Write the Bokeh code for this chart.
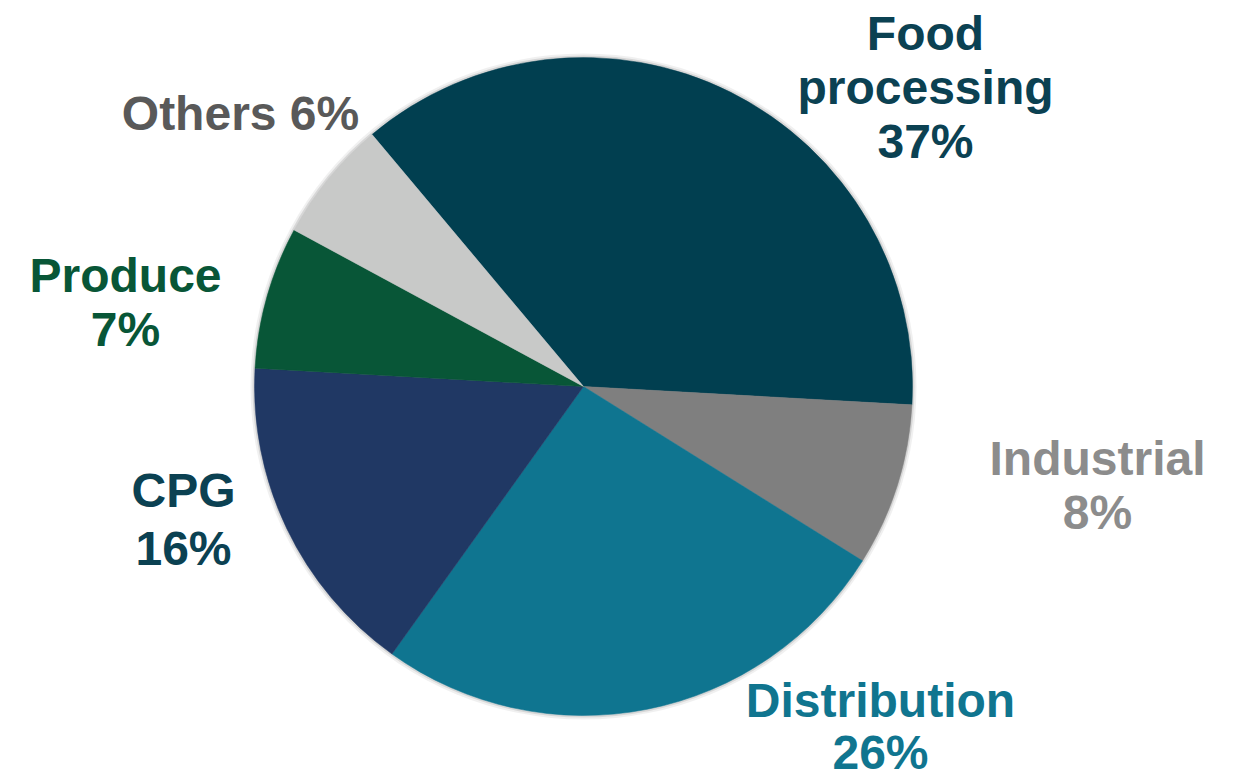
from bokeh.plotting import figure
from bokeh.models import ColumnDataSource
from bokeh.core.properties import value
from bokeh.embed import file_html
from bokeh.resources import INLINE
import math

categories = ["Food processing", "Industrial", "Distribution", "CPG", "Produce", "Others"]
shares = [37, 8, 26, 16, 7, 6]
slice_colors = ["#013F50", "#7F7F7F", "#0F7590", "#203864", "#085637", "#C8C9C8"]
text_colors = ["#0B4152", "#8C8C8C", "#10758F", "#0B4152", "#085637", "#595959"]
label_lines = [["Food", "processing"], ["Industrial"], ["Distribution"], ["CPG"], ["Produce"], ["Others"]]

W, H = 1237, 780
CX, CY, R = 583, H - 386, 329
START = 130.0

p = figure(width=W, height=H, x_range=(0, W), y_range=(0, H),
           output_backend="svg", toolbar_location=None, min_border=0)
p.axis.visible = False
p.grid.visible = False
p.outline_line_color = None
p.background_fill_color = "white"

starts, ends = [], []
cum = 0
total = sum(shares)
for s in shares:
    a0 = START - cum / total * 360
    cum += s
    a1 = START - cum / total * 360
    starts.append(math.radians(a0))
    ends.append(math.radians(a1))

src = ColumnDataSource(dict(cat=categories, share=shares, start=starts, end=ends, color=slice_colors))

# soft shadow
for r, a in [(R + 4, 0.06), (R + 2, 0.10)]:
    p.circle(x=CX, y=CY, radius=r, fill_color="#000000", fill_alpha=a, line_color=None)

p.wedge(x=CX, y=CY, radius=R, start_angle="start", end_angle="end", direction="clock",
        fill_color="color", line_color="color", line_width=0.5, source=src)

# label layout: (center x, first baseline y in pixels, line spacing)
layout = [(925, 33, 54), (1097, 458, 54), (880, 700, 52), (183, 490, 58), (125, 275, 54), (240, 113, 0)]

xs, ys, txt, cols = [], [], [], []
for i, (cat, s) in enumerate(zip(categories, shares)):
    lx, ly, dy = layout[i]
    lines = list(label_lines[i])
    if categories[i] == "Others":
        lines = [lines[0] + f" {s}%"]
    else:
        lines = lines + [f"{s}%"]
    for j, ln in enumerate(lines):
        xs.append(lx)
        ys.append(H - (ly + j * dy))
        txt.append(ln)
        cols.append(text_colors[i])

tsrc = ColumnDataSource(dict(x=xs, y=ys, t=txt, c=cols))
p.text(x="x", y="y", text="t", text_color="c", source=tsrc,
       text_font=value("Liberation Sans"), text_font_style="bold",
       text_font_size="48px", text_align="center", text_baseline="alphabetic")

open("out.html", "w").write(file_html(p, INLINE))
